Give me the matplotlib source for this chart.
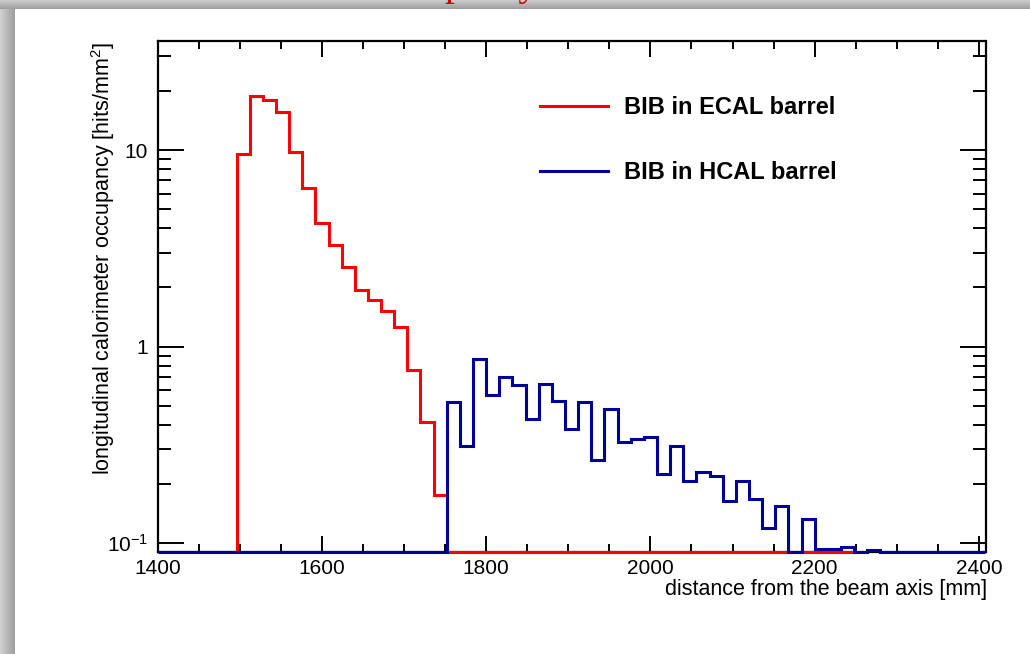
import numpy as np
import matplotlib
matplotlib.use("Agg")
import matplotlib.pyplot as plt
from matplotlib.ticker import MultipleLocator, LogLocator, NullFormatter, FixedFormatter

plt.rcParams['font.family'] = ['Liberation Sans', 'DejaVu Sans']
plt.rcParams['mathtext.fontset'] = 'custom'
plt.rcParams['mathtext.rm'] = 'Liberation Sans'
plt.rcParams['mathtext.it'] = 'Liberation Sans:italic'
plt.rcParams['mathtext.bf'] = 'Liberation Sans:bold'

# histogram binning (mm)
x_start = 1400
bin_width = 16
n_bins_ecal = 53
n_bins_hcal = 63

# ECAL barrel occupancy per bin [hits/mm^2]
ecal_vals = [0, 0, 0, 0, 0, 0,
             9.5, 18.9, 17.9, 15.6, 9.8, 6.4, 4.24, 3.27, 2.55, 1.95,
             1.73, 1.51, 1.26, 0.76, 0.415, 0.175,
             0, 0, 0, 0, 0, 0, 0, 0, 0, 0, 0, 0, 0, 0, 0, 0, 0, 0, 0, 0,
             0, 0, 0, 0, 0, 0, 0, 0, 0, 0, 0]

# HCAL barrel occupancy per bin [hits/mm^2]
hcal_vals = [0] * 22 + [
    0.52, 0.313, 0.866, 0.57, 0.70, 0.64, 0.43, 0.646, 0.527, 0.38,
    0.52, 0.266, 0.48, 0.326, 0.339, 0.348, 0.225, 0.313, 0.208, 0.229,
    0.22, 0.163, 0.206, 0.168, 0.119, 0.155, 0, 0.133, 0.093, 0.093,
    0.095, 0, 0.0916] + [0] * 8

x_ticks = [1400, 1600, 1800, 2000, 2200, 2400]
y_ticks = [0.1, 1, 10]
y_ticklabels = [r'$\mathregular{10^{-1}}$', '1', '10']
labels = ['BIB in ECAL barrel', 'BIB in HCAL barrel']

x_lo, x_hi = 1400, 2408
y_lo, y_hi = 0.090, 35.9

ecal_edges = x_start + bin_width * np.arange(n_bins_ecal + 1)
hcal_edges = x_start + bin_width * np.arange(n_bins_hcal + 1)

fig = plt.figure(figsize=(10.30, 6.54), dpi=100)

# grey page border (left and top)
bg = fig.add_axes([0, 0, 1, 1], zorder=-10)
bg.imshow(np.linspace(0.82, 0.62, 30)[None, :], extent=[0, 15, 654, 0],
          cmap='gray', vmin=0, vmax=1, aspect='auto')
bg.imshow(np.linspace(0.80, 0.62, 30)[:, None], extent=[0, 1030, 9, 0],
          cmap='gray', vmin=0, vmax=1, aspect='auto')
bg.set_xlim(0, 1030); bg.set_ylim(654, 0)
bg.axis('off')

# slide title, mostly cut off above the picture as in the original
fig.text(363 / 1030, 1 + 5 / 654, 'Occupancy', color='#d00000',
         family='Liberation Serif', fontsize=28, ha='left', va='baseline')

ax = fig.add_axes([157.7 / 1030, 1 - 552 / 654, 827.8 / 1030, 511 / 654])
ax.set_yscale('log')

ax.stairs(np.maximum(ecal_vals, y_lo), ecal_edges, color='#ff0000', lw=2.2,
          baseline=None, clip_on=False, zorder=3, label=labels[0])
ax.stairs(np.maximum(hcal_vals, y_lo), hcal_edges, color='#000099', lw=2.2,
          baseline=None, clip_on=False, zorder=3, label=labels[1])

ax.set_xlim(x_lo, x_hi)
ax.set_ylim(y_lo, y_hi)

ax.set_xticks(x_ticks)
ax.xaxis.set_minor_locator(MultipleLocator(50))
ax.yaxis.set_major_locator(matplotlib.ticker.FixedLocator(y_ticks))
ax.yaxis.set_major_formatter(FixedFormatter(y_ticklabels))
ax.yaxis.set_minor_locator(LogLocator(base=10, subs=range(2, 10)))
ax.yaxis.set_minor_formatter(NullFormatter())

ax.tick_params(which='both', direction='in', top=True, right=True,
               width=1.4, color='black', labelsize=15)
ax.tick_params(axis='x', which='major', length=11.5, pad=5)
ax.tick_params(axis='x', which='minor', length=5.8)
ax.tick_params(axis='y', which='major', length=18.7, pad=7)
ax.tick_params(axis='y', which='minor', length=9.4)
for sp in ax.spines.values():
    sp.set_linewidth(1.6)

fig.text(987 / 1030, 1 - 590 / 654, 'distance from the beam axis [mm]',
         ha='right', va='center', fontsize=15.5)
fig.text(103 / 1030, 1 - 42 / 654,
         r'longitudinal calorimeter occupancy [hits/mm$\mathregular{^{2}}$]',
         rotation=90, ha='center', va='top', fontsize=15.5)

ax.legend(loc='upper left', bbox_to_anchor=(540 / 1030, 1 - 96 / 654),
          bbox_transform=fig.transFigure, frameon=False,
          prop=dict(weight='bold', size=17), handlelength=2.88,
          handletextpad=0.68, labelspacing=1.77, borderpad=0, borderaxespad=0)

fig.savefig('out.png', dpi=100, facecolor='white')
